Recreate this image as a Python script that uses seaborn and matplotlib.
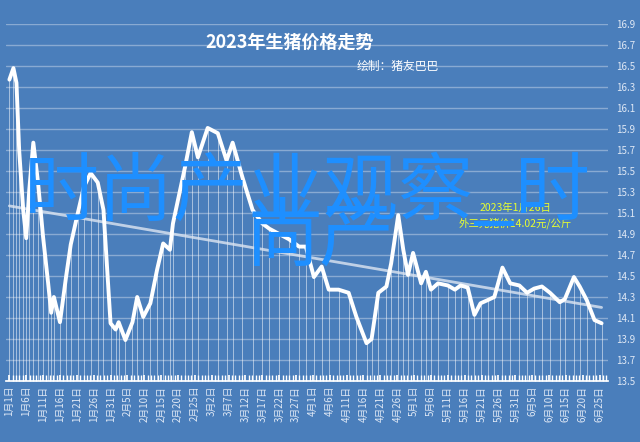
import matplotlib
matplotlib.use("Agg")
import matplotlib.pyplot as plt
import numpy as np
import pandas as pd
import seaborn as sns

sns.set_theme(style="dark")
plt.rcParams['font.family'] = ['Noto Sans CJK SC', 'DejaVu Sans']

# day offset from 1月1日, price (元/公斤)
days = [0, 1.2, 2.1, 2.9, 4.1, 5, 5.9, 7.1, 8.5, 10,
        11.5, 12.4, 13.2, 15, 16.8, 18.2, 20.3, 22.1, 24.1, 26.2,
        27.9, 30, 31.5, 32.4, 34.4, 36.5, 37.9, 39.7, 41.8, 43.8,
        45.6, 47.6, 48.5, 52.1, 54.1, 55.9, 58.8, 61.8, 64.4, 66.2,
        69.1, 72.1, 75, 77.1, 80, 82.9, 85.9, 87.9, 90.3, 92.6,
        94.7, 97.6, 100.6, 102.9, 105.9, 107.4, 109.4, 111.8, 113.2, 115.3,
        116.8, 118.2, 119.7, 122.1, 123.5, 125, 127.1, 130, 132.1, 133.8,
        135.9, 137.9, 139.7, 141.8, 143.8, 146.2, 148.5, 151.2, 153.5, 155.6,
        157.9, 160.3, 163.2, 164.7, 167.4, 169.1, 171.2, 173.5, 175.6]
prices = [16.37, 16.48, 16.34, 15.7, 15.13, 14.86, 15.32, 15.77, 15.39, 14.87,
          14.43, 14.15, 14.3, 14.06, 14.49, 14.8, 15.1, 15.35, 15.48, 15.39,
          15.13, 14.05, 13.99, 14.06, 13.89, 14.06, 14.3, 14.11, 14.24, 14.56,
          14.81, 14.75, 15.0, 15.54, 15.87, 15.63, 15.91, 15.86, 15.6, 15.77,
          15.44, 15.13, 15.0, 14.95, 14.9, 14.85, 14.78, 14.78, 14.49, 14.59,
          14.37, 14.37, 14.34, 14.11, 13.86, 13.9, 14.34, 14.4, 14.62, 15.08,
          14.75, 14.51, 14.72, 14.43, 14.54, 14.37, 14.43, 14.41, 14.37, 14.41,
          14.39, 14.13, 14.24, 14.27, 14.3, 14.58, 14.43, 14.41, 14.34, 14.38,
          14.4, 14.34, 14.25, 14.28, 14.49, 14.4, 14.27, 14.08, 14.05]

tick_days = list(range(0, 176, 5))
start = pd.Timestamp("2023-01-01")
tick_labels = []
for d in tick_days:
    t = start + pd.Timedelta(days=d)
    tick_labels.append(f"{t.month}月{t.day}日")
y_ticks = np.round(np.arange(13.5, 16.91, 0.2), 1)

df = pd.DataFrame({"day": days, "price": prices})
bg = "#4a7ebb"

fig = plt.figure(figsize=(6.4, 4.42), dpi=100, facecolor=bg)
ax = fig.add_axes([6 / 640, 1 - 381 / 442, 602 / 640, 357 / 442])
ax.set_facecolor(bg)

ax.vlines(df["day"], 13.5, df["price"], color="white", lw=0.6, alpha=0.6)
sns.regplot(data=df, x="day", y="price", ax=ax, scatter=False, ci=None,
            line_kws={"color": "#dde6f2", "lw": 2, "alpha": 0.8})
sns.lineplot(data=df, x="day", y="price", ax=ax, color="white", lw=2.8)

ax.set_xlim(-1, 177.5)
ax.set_ylim(13.5, 16.9)
ax.yaxis.tick_right()
ax.set_yticks(y_ticks)
ax.set_yticklabels([f"{v:.1f}" for v in y_ticks], fontsize=7, color="#dfe8f5")
ax.set_xticks(tick_days)
ax.set_xticklabels(tick_labels, rotation=90, fontsize=7, color="#dfe8f5")
ax.set_xticks(range(0, 178), minor=True)
ax.tick_params(axis="x", which="both", direction="in", length=4, color="white",
               top=False, bottom=True)
ax.tick_params(axis="y", length=0, pad=6)
ax.grid(axis="y", color="white", alpha=0.35, lw=1)
ax.grid(axis="x", visible=False)
for s in ["top", "left", "right"]:
    ax.spines[s].set_visible(False)
ax.spines["bottom"].set_color("white")
ax.set_xlabel("")
ax.set_ylabel("")

fig.text(290 / 640, 1 - 42 / 442, "2023年生猪价格走势", ha="center", va="center",
         fontsize=13, color="white", fontweight="bold")
fig.text(398 / 640, 1 - 66 / 442, "绘制：猪友巴巴", ha="center", va="center",
         fontsize=8.5, color="white")
fig.text(515 / 640, 1 - 208 / 442, "2023年1月26日", ha="center", va="center",
         fontsize=7.5, color="#e8ff30")
fig.text(515 / 640, 1 - 223 / 442, "外三元猪价14.02元/公斤", ha="center", va="center",
         fontsize=7.5, color="#e8ff30")

fig.text(307 / 640, 1 - 193 / 442, "时尚产业观察_时", ha="center", va="center",
         fontsize=54, color="#1e8fff")
fig.text(320 / 640, 1 - 238 / 442, "尚产", ha="center", va="center",
         fontsize=54, color="#1e8fff")

fig.savefig("out.png", dpi=100, facecolor=bg)
